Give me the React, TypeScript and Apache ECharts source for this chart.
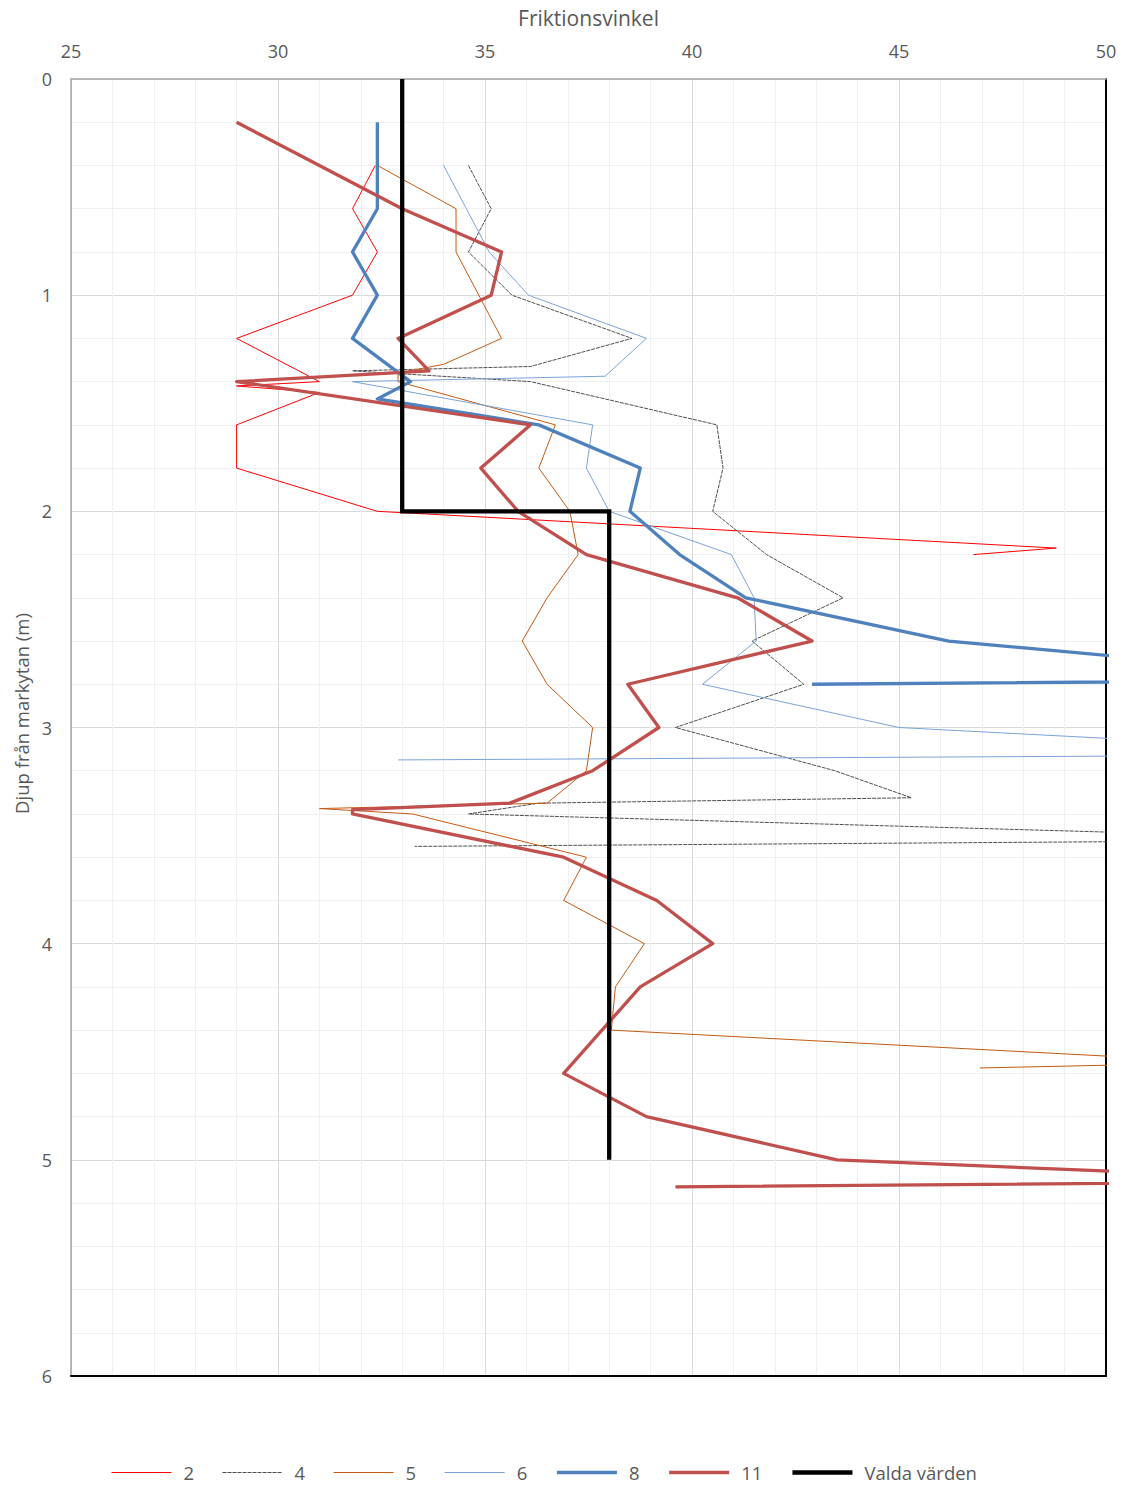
import React, { useEffect, useRef } from "react";
import * as echarts from "echarts";

// ---- Data (depth in m, friction angle in degrees) ----
const xTickMin = 25;
const xTickMax = 50;
const yTickMin = 0;
const yTickMax = 6;

const s2Depth = [0.4, 0.6, 0.8, 1.0, 1.2, 1.4, 1.42, 1.45, 1.6, 1.8, 2.0, 2.17, 2.2];
const s2Angle = [32.35, 31.8, 32.4, 31.8, 29.0, 31.0, 29.0, 31.0, 29.0, 29.0, 32.4, 48.8, 46.8];

const s4Depth = [0.4, 0.6, 0.8, 1.0, 1.2, 1.33, 1.35, 1.4, 1.6, 1.8, 2.0, 2.2, 2.4, 2.6, 2.8, 3.0, 3.2, 3.325, 3.35, 3.4, 3.52, 3.55];
const s4Angle = [34.6, 35.15, 34.6, 35.65, 38.55, 36.1, 31.8, 36.1, 40.6, 40.75, 40.5, 41.8, 43.65, 41.45, 42.7, 39.6, 43.45, 45.3, 36.3, 34.6, 56.7, 33.3];

const s5Depth = [0.4, 0.6, 0.8, 1.2, 1.32, 1.36, 1.4, 1.6, 1.8, 2.0, 2.2, 2.4, 2.6, 2.8, 3.0, 3.2, 3.35, 3.375, 3.4, 3.6, 3.8, 4.0, 4.2, 4.4, 4.55, 4.575];
const s5Angle = [32.4, 34.3, 34.3, 35.4, 34.0, 32.9, 32.9, 36.7, 36.3, 37.05, 37.25, 36.5, 35.9, 36.5, 37.6, 37.45, 36.5, 31.0, 33.25, 37.45, 36.9, 38.85, 38.15, 38.05, 53.0, 46.95];

const s6Depth = [0.4, 0.6, 0.8, 1.0, 1.2, 1.375, 1.4, 1.6, 1.8, 2.0, 2.2, 2.4, 2.6, 2.8, 3.0, 3.125, 3.15];
const s6Angle = [34.0, 34.55, 35.1, 36.05, 38.9, 37.9, 31.8, 37.6, 37.45, 38.0, 40.95, 41.5, 41.55, 40.25, 45.0, 57.5, 32.9];

const s8Depth = [0.2, 0.4, 0.6, 0.8, 1.0, 1.2, 1.4, 1.48, 1.6, 1.8, 2.0, 2.2, 2.4, 2.6, 2.78, 2.8];
const s8Angle = [32.4, 32.4, 32.4, 31.8, 32.4, 31.8, 33.2, 32.4, 36.3, 38.75, 38.5, 39.7, 41.3, 46.2, 56.5, 42.9];

const s11Depth = [0.2, 0.4, 0.6, 0.8, 1.0, 1.2, 1.35, 1.4, 1.6, 1.8, 2.0, 2.2, 2.4, 2.6, 2.8, 3.0, 3.2, 3.35, 3.38, 3.4, 3.6, 3.8, 4.0, 4.2, 4.6, 4.8, 5.0, 5.1, 5.125];
const s11Angle = [29.0, 31.0, 33.0, 35.4, 35.15, 32.9, 33.65, 29.0, 36.1, 34.9, 35.8, 37.45, 41.1, 42.9, 38.45, 39.2, 37.6, 35.6, 31.8, 31.8, 36.9, 39.15, 40.5, 38.75, 36.9, 38.9, 43.5, 56.0, 39.6];

const valdaDepth = [0, 2, 2, 5];
const valdaAngle = [33, 33, 38, 38];

const seriesNames = ["2", "4", "5", "6", "8", "11", "Valda värden"];

const FONT = "'Open Sans', 'Noto Sans', sans-serif";
const TEXT = "#595959";

function pairs(angle: number[], depth: number[]) {
  return angle.map((a, i) => [a, depth[i]]);
}

function lineSeries(name: string, data: number[][], color: string, width: number, type: any = "solid", join: any = "round") {
  return {
    name,
    type: "line",
    data,
    symbol: "none",
    showSymbol: false,
    clip: true,
    lineStyle: { color, width, type, join },
    itemStyle: { color },
    emphasis: { disabled: true },
  };
}

export default function App() {
  const ref = useRef<HTMLDivElement>(null);

  useEffect(() => {
    document.body.style.margin = "0";
    if (!ref.current) return;
    const chart = echarts.init(ref.current, undefined, { renderer: "svg" });
    const colors = ["#FF0000", "#3A3A3A", "#C55A11", "#7BA3DA", "#4F81BD", "#C0504D", "#000000"];
    const widths = [1, 0.9, 1, 1, 3.3, 3.3, 4.3];
    const dash: any[] = ["solid", [4, 1], "solid", "solid", "solid", "solid", "solid"];
    const data = [
      pairs(s2Angle, s2Depth),
      pairs(s4Angle, s4Depth),
      pairs(s5Angle, s5Depth),
      pairs(s6Angle, s6Depth),
      pairs(s8Angle, s8Depth),
      pairs(s11Angle, s11Depth),
      pairs(valdaAngle, valdaDepth),
    ];
    const option: any = {
      animation: false,
      textStyle: { fontFamily: FONT },
      grid: { left: 71, right: 18, top: 79, bottom: 110, containLabel: false },
      xAxis: [
        {
          type: "value",
          position: "top",
          min: xTickMin,
          max: xTickMax,
          interval: 5,
          name: "Friktionsvinkel",
          nameLocation: "middle",
          nameGap: 51,
          nameTextStyle: { fontSize: 21, color: TEXT, fontFamily: FONT },
          axisLine: { show: true, onZero: false, lineStyle: { color: "#A6A6A6", width: 1.5 } },
          axisTick: { show: false },
          axisLabel: { fontSize: 18, color: TEXT, margin: 19, fontFamily: FONT },
          splitLine: { show: true, lineStyle: { color: "#D9D9D9", width: 1 } },
          minorTick: { show: false, splitNumber: 5 },
          minorSplitLine: { show: true, lineStyle: { color: "#F0F0F0", width: 1 } },
        },
        {
          type: "value",
          position: "bottom",
          min: xTickMin,
          max: xTickMax,
          interval: 5,
          axisLine: { show: true, onZero: false, lineStyle: { color: "#000000", width: 2 } },
          axisTick: { show: false },
          axisLabel: { show: false },
          splitLine: { show: false },
        },
      ],
      yAxis: [
        {
          type: "value",
          inverse: true,
          min: yTickMin,
          max: yTickMax,
          interval: 1,
          name: "Djup från markytan (m)",
          nameLocation: "middle",
          nameGap: 38,
          nameTextStyle: { fontSize: 18.5, color: TEXT, fontFamily: FONT, padding: [0, 0, 0, 28] },
          axisLine: { show: true, onZero: false, lineStyle: { color: "#A6A6A6", width: 1.5 } },
          axisTick: { show: false },
          axisLabel: { fontSize: 18, color: TEXT, margin: 19, fontFamily: FONT },
          splitLine: { show: true, lineStyle: { color: "#D9D9D9", width: 1 } },
          minorTick: { show: false, splitNumber: 5 },
          minorSplitLine: { show: true, lineStyle: { color: "#F0F0F0", width: 1 } },
        },
        {
          type: "value",
          position: "right",
          inverse: true,
          min: yTickMin,
          max: yTickMax,
          interval: 1,
          axisLine: { show: true, onZero: false, lineStyle: { color: "#000000", width: 2 } },
          axisTick: { show: false },
          axisLabel: { show: false },
          splitLine: { show: false },
        },
      ],
      legend: {
        data: seriesNames,
        left: 106,
        top: 1458,
        orient: "horizontal",
        itemWidth: 60,
        itemHeight: 13,
        itemGap: 28,
        selectedMode: false,
        itemStyle: { opacity: 0 },
        lineStyle: { width: "inherit", color: "inherit", type: "inherit", opacity: 1 },
        textStyle: { fontSize: 18.5, color: TEXT, fontFamily: FONT, padding: [0, 0, 0, 7] },
      },
      series: seriesNames.map((n, i) =>
        lineSeries(n, data[i], colors[i], widths[i], dash[i], i === 6 ? "miter" : "round")
      ),
    };
    chart.setOption(option);
    return () => chart.dispose();
  }, []);

  return <div ref={ref} style={{ width: 1124, height: 1486 }} />;
}
